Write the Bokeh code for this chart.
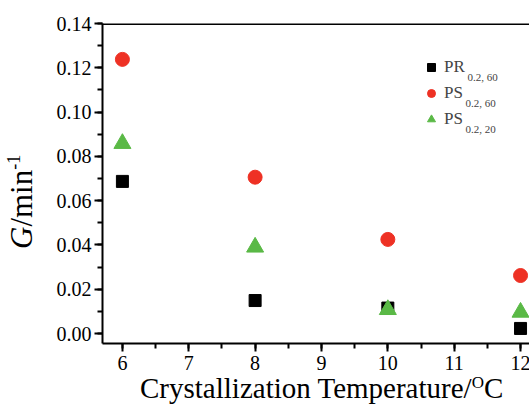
import numpy as np
from bokeh.plotting import figure
from bokeh.layouts import row, column
from bokeh.models import (Range1d, Span, Label, Legend, LegendItem, Div,
                          FixedTicker, ColumnDataSource)
from bokeh.embed import file_html
from bokeh.resources import INLINE

# ---- data ----
temps = [6, 8, 10, 12]
pr_02_60 = [0.0687, 0.0149, 0.0115, 0.0023]
ps_02_60 = [0.1238, 0.0706, 0.0425, 0.0262]
ps_02_20 = [0.0858, 0.0390, 0.0108, 0.0096]
x_ticks = [6, 7, 8, 9, 10, 11, 12]
y_ticks = [0.00, 0.02, 0.04, 0.06, 0.08, 0.10, 0.12, 0.14]
y_tick_labels = {0.00: "0.00", 0.02: "0.02", 0.04: "0.04", 0.06: "0.06",
                 0.08: "0.08", 0.10: "0.10", 0.12: "0.12", 0.14: "0.14"}
legend_main = ["PR", "PS", "PS"]
legend_sub = ["0.2, 60", "0.2, 60", "0.2, 20"]
x_title = ("Crystallization Temperature/", "O", "C")
y_title = ("G", "/min", "-1")

FONT = "Liberation Serif"
YDIV_W = 41
AXIS_PANEL = 60
W, H = 529 - YDIV_W - 9, 379
XDIV_H = 407 - H
BL, BR, BT, BB = 51, 0, 23, 36
X0, X1 = 5.7, 12.15
Y0, Y1 = -0.0045, 0.14

p = figure(width=W, height=H, output_backend="svg", toolbar_location=None,
           x_range=Range1d(X0, X1), y_range=Range1d(Y0, Y1),
           min_border_left=BL, min_border_right=BR, min_border_top=BT,
           min_border_bottom=BB)
p.outline_line_color = None
p.grid.visible = False
p.background_fill_color = "white"
p.border_fill_color = "white"

for ax in (p.xaxis[0], p.yaxis[0]):
    ax.axis_line_width = 2
    ax.axis_line_color = "black"
    ax.major_tick_line_width = 2
    ax.minor_tick_line_width = 2
    ax.major_tick_out = 8
    ax.major_tick_in = 0
    ax.minor_tick_out = 5
    ax.minor_tick_in = 0
    ax.major_label_text_font = FONT
    ax.major_label_text_font_size = "20px"
    ax.major_label_text_color = "black"

p.xaxis.ticker = FixedTicker(ticks=x_ticks, minor_ticks=list(np.arange(5.5, 12.6, 0.5)))
p.xaxis.major_label_standoff = 4
p.yaxis.ticker = FixedTicker(ticks=y_ticks, minor_ticks=list(np.arange(0.0, 0.141, 0.01)))
p.yaxis.major_label_overrides = y_tick_labels
p.yaxis.major_label_standoff = 3

p.add_layout(Span(location=Y1, dimension="width", line_color="black", line_width=3))

src = ColumnDataSource(dict(t=temps, a=pr_02_60, b=ps_02_60, c=ps_02_20))
r1 = p.scatter("t", "a", source=src, marker="square", size=12,
               fill_color="black", line_color="black")
r2 = p.scatter("t", "b", source=src, marker="circle", size=14,
               fill_color="#ee3124", line_color="#ee3124")
r3 = p.scatter("t", "c", source=src, marker="triangle", size=17,
               fill_color="#5ab946", line_color="#5ab946")

legend = Legend(items=[LegendItem(label=legend_main[0], renderers=[r1]),
                       LegendItem(label=legend_main[1], renderers=[r2]),
                       LegendItem(label=legend_main[2], renderers=[r3])],
                location=(319, 214), border_line_color=None,
                background_fill_alpha=0, padding=0, margin=0, spacing=6,
                glyph_width=20, glyph_height=20, label_height=20,
                label_standoff=3, label_text_font=FONT,
                label_text_font_size="17px")
p.add_layout(legend)

FRAME_LEFT_PAGE = YDIV_W + AXIS_PANEL
FRAME_BOTTOM = H - BB


def lab(px, py, text, size):
    # px, py: page pixels from top-left; screen units are relative to frame bottom-left
    p.add_layout(Label(x=px - FRAME_LEFT_PAGE, y=FRAME_BOTTOM - py,
                       x_units="screen", y_units="screen",
                       text=text, text_font=FONT, text_font_size=size,
                       text_baseline="alphabetic", text_align="left"))


# legend subscripts
for i, s in enumerate(legend_sub):
    lab(466 if i == 0 else 464, 76 + i * 26, s, "11px")

# x axis title (HTML so the superscript stays real text)
xdiv = Div(width=W, height=XDIV_H, styles={"overflow": "visible"}, text=(
    f'<div style="width:0px; height:0px; overflow:visible; '
    f'font-family:\'{FONT}\'; font-size:29px; line-height:29px; '
    f'white-space:nowrap; color:black; transform:translate(84px,-16px);">'
    f'{x_title[0]}<span style="font-size:17px; vertical-align:10px;">{x_title[1]}</span>'
    f'{x_title[2]}</div>'))

# y axis title, rotated
ydiv = Div(width=YDIV_W, height=407, styles={"overflow": "visible"}, text=(
    f'<div style="width:0px; height:0px; overflow:visible; '
    f'font-family:\'{FONT}\'; font-size:31px; line-height:31px; '
    f'white-space:nowrap; color:black; transform-origin:0 0; '
    f'transform:translate(-6px,244px) rotate(-90deg);">'
    f'<i>{y_title[0]}</i>{y_title[1]}<span style="font-size:18px; vertical-align:12px;">'
    f'{y_title[2]}</span></div>'))

layout = row(ydiv, column(p, xdiv, spacing=0), spacing=0)

open("out.html", "w").write(file_html(layout, INLINE))
